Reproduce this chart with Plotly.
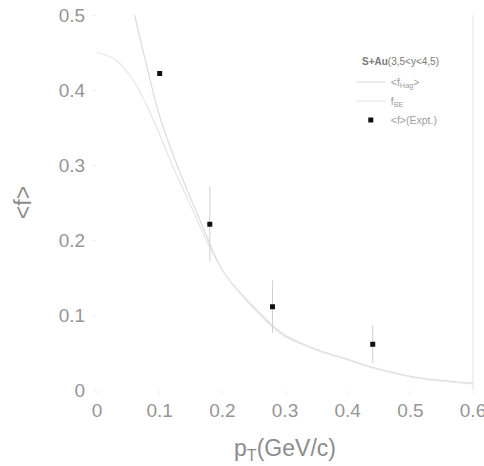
import plotly.graph_objects as go

# Data
pt_hag = [0.060, 0.080, 0.100, 0.130, 0.160, 0.200, 0.225, 0.250, 0.280, 0.300, 0.330, 0.357, 0.400, 0.437, 0.480, 0.517, 0.560, 0.600]
f_hag = [0.500, 0.430, 0.365, 0.295, 0.235, 0.160, 0.133, 0.111, 0.086, 0.073, 0.061, 0.052, 0.041, 0.031, 0.022, 0.016, 0.012, 0.009]

pt_be = [0.000, 0.030, 0.060, 0.090, 0.120, 0.150, 0.180, 0.200, 0.225, 0.250, 0.280, 0.300, 0.330, 0.357, 0.400, 0.437, 0.480, 0.517, 0.560, 0.600]
f_be = [0.450, 0.440, 0.410, 0.360, 0.300, 0.245, 0.190, 0.160, 0.132, 0.109, 0.084, 0.071, 0.060, 0.051, 0.040, 0.030, 0.021, 0.015, 0.011, 0.008]

pt_exp = [0.10, 0.18, 0.28, 0.44]
f_exp = [0.422, 0.221, 0.111, 0.061]
f_err = [0.0, 0.050, 0.035, 0.025]

x_ticks = [0, 0.1, 0.2, 0.3, 0.4, 0.5, 0.6]
x_ticklabels = ["0", "0.1", "0.2", "0.3", "0.4", "0.5", "0.6"]
y_ticks = [0, 0.1, 0.2, 0.3, 0.4, 0.5]
y_ticklabels = ["0", "0.1", "0.2", "0.3", "0.4", "0.5"]

legend_title = "<b>S+Au</b>(3,5&lt;y&lt;4,5)"

FONT = "Liberation Sans, Arial, sans-serif"
GREY = "#969696"

fig = go.Figure()
fig.add_trace(go.Scatter(
    x=pt_hag, y=f_hag, mode="lines", line=dict(color="#dcdcdc", width=1.2, shape="spline"),
    name="&lt;f<sub>Hag</sub>&gt;"))
fig.add_trace(go.Scatter(
    x=pt_be, y=f_be, mode="lines", line=dict(color="#e6e6e6", width=1.2, shape="spline"),
    name="f<sub>BE</sub>"))
fig.add_trace(go.Scatter(
    x=pt_exp, y=f_exp, mode="markers",
    marker=dict(symbol="square", size=5, color="#111111"),
    error_y=dict(type="data", array=f_err, visible=True, color="#d0d0d0", thickness=1, width=0),
    name="&lt;f&gt;(Expt.)"))

fig.update_layout(
    width=484, height=466,
    margin=dict(l=97, r=11, t=15, b=76),
    paper_bgcolor="white", plot_bgcolor="white",
    font=dict(family=FONT, color=GREY),
    showlegend=True,
    legend=dict(
        x=0.675, y=0.86, xanchor="left", yanchor="top",
        bgcolor="rgba(0,0,0,0)",
        font=dict(size=10.5, color="#a0a0a0", family=FONT),
        tracegroupgap=0,
    ),
    xaxis=dict(
        range=[0, 0.6], tickvals=x_ticks, ticktext=x_ticklabels,
        showgrid=False, zeroline=False, showline=False, automargin=False,
        ticks="outside", ticklen=3, tickcolor="#eeeeee",
        ticklabeloverflow="allow",
        tickfont=dict(size=19, color=GREY),
        title=dict(text="p<sub>T</sub>(GeV/c)", font=dict(size=23, color="#8c8c8c"), standoff=20),
    ),
    yaxis=dict(
        range=[0, 0.5], tickvals=y_ticks, ticktext=y_ticklabels,
        showgrid=False, zeroline=False, showline=False, automargin=False,
        ticks="outside", ticklen=3, tickcolor="#eeeeee",
        ticklabelstandoff=4,
        tickfont=dict(size=19, color=GREY),
        title=dict(text="&lt;f&gt;", font=dict(size=23, color="#8c8c8c"), standoff=20),
    ),
)

# legend heading placed as text above the legend entries
fig.add_annotation(text=legend_title, xref="paper", yref="paper", x=0.7, y=0.875,
                   xanchor="left", yanchor="middle", showarrow=False,
                   font=dict(size=10, color="#7a7a7a", family=FONT))

# faint right-hand frame line
fig.add_shape(type="line", xref="x domain", yref="y domain", x0=1, x1=1, y0=0, y1=1,
              line=dict(color="#e3e3e3", width=1))

fig.write_html("out.html")
